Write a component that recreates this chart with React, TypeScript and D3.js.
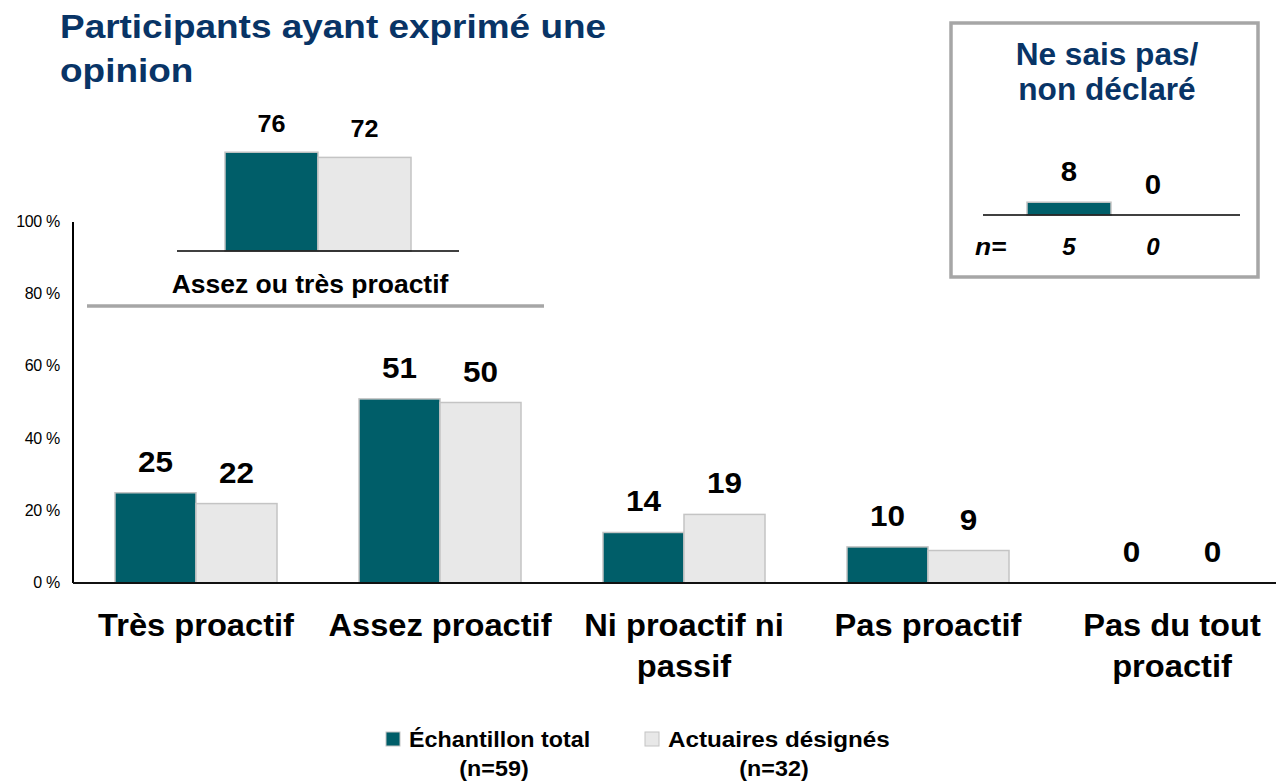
import * as d3 from 'd3';
import type { ReactNode } from 'react';

const categories = ['Très proactif', 'Assez proactif', 'Ni proactif ni passif', 'Pas proactif', 'Pas du tout proactif'];
const categoryLines = [['Très proactif'], ['Assez proactif'], ['Ni proactif ni', 'passif'], ['Pas proactif'], ['Pas du tout', 'proactif']];
const series = ['total', 'actuaires'];
const totalValues = [25, 51, 14, 10, 0];
const actuairesValues = [22, 50, 19, 9, 0];
const summaryValues = [76, 72];
const unknownValues = [8, 0];
const unknownN = ['5', '0'];
const yTicks = [0, 20, 40, 60, 80, 100];
const legendLabels = ['Échantillon total', 'Actuaires désignés'];
const legendN = ['(n=59)', '(n=32)'];

const W = 1276;
const H = 781;
const FONT = '"Liberation Sans", Arial, Helvetica, sans-serif';
const TEAL = '#005E69';
const LIGHT = '#E8E8E8';
const EDGE = '#C4C4C4';
const NAVY = '#083466';
const colors = [TEAL, LIGHT];

// text slightly widened, like the original rendering
function T({ x, y, sx = 1, children, ...rest }: { x: number; y: number; sx?: number; children: ReactNode; [k: string]: any }) {
  return (
    <text transform={`translate(${x},${y}) scale(${sx},1)`} {...rest}>
      {children}
    </text>
  );
}

export default function App(): JSX.Element {
  const y = d3.scaleLinear().domain([0, 100]).range([583, 222]);
  const x = d3.scaleBand().domain(categories).range([74, 1294]).paddingInner(0.336).paddingOuter(0.168);
  const xs = d3.scaleBand().domain(series).range([0, x.bandwidth()]);

  // small "assez ou très" panel
  const ySum = d3.scaleLinear().domain([0, 100]).range([251, 121]);
  const xSum = d3.scaleBand().domain(series).range([225, 411]);

  // "ne sais pas" box
  const yUnk = d3.scaleLinear().domain([0, 100]).range([215, 55]);
  const xUnk = d3.scaleBand().domain(series).range([1027, 1195]);

  const rows = categories.map((c, i) => [totalValues[i], actuairesValues[i]]);

  return (
    <svg width={W} height={H} style={{ position: 'absolute', left: 0, top: 0 }} fontFamily={FONT}>
      <rect width={W} height={H} fill="#fff" />

      {/* title */}
      <T x={60} y={38} sx={1.12} fontSize={33} fontWeight="bold" fill={NAVY}>
        <tspan x={0}>Participants ayant exprimé une</tspan>
        <tspan x={0} dy={44}>opinion</tspan>
      </T>

      {/* y axis */}
      {yTicks.map((t) => (
        <text key={t} x={60} y={y(t)} dy={5} textAnchor="end" fontSize={16} letterSpacing={-0.3} fill="#000">
          {t} %
        </text>
      ))}
      <line x1={73} x2={73} y1={y(100)} y2={y(0)} stroke="#000" strokeWidth={2} />

      {/* main bars */}
      {rows.map((vals, i) =>
        vals.map((v, j) => {
          const bx = (x(categories[i]) as number) + (xs(series[j]) as number);
          return (
            <g key={`${i}-${j}`}>
              {v > 0 && (
                <rect x={bx} y={y(v)} width={xs.bandwidth()} height={y(0) - y(v)} fill={colors[j]} stroke={EDGE} strokeWidth={1.5} />
              )}
              <T x={bx + xs.bandwidth() / 2} y={y(v) - 21} sx={1.05} textAnchor="middle" fontSize={30} fontWeight="bold">
                {v}
              </T>
            </g>
          );
        })
      )}
      <line x1={73} x2={W} y1={y(0)} y2={y(0)} stroke="#111" strokeWidth={2} />

      {/* category labels */}
      {categoryLines.map((lines, i) => (
        <T key={i} x={(x(categories[i]) as number) + x.bandwidth() / 2} y={636} sx={1.02} textAnchor="middle" fontSize={32} fontWeight="bold">
          {lines.map((l, k) => (
            <tspan key={k} x={0} dy={k === 0 ? 0 : 41}>
              {l}
            </tspan>
          ))}
        </T>
      ))}

      {/* summary panel */}
      {summaryValues.map((v, j) => (
        <g key={j}>
          <rect x={xSum(series[j])} y={ySum(v)} width={xSum.bandwidth()} height={ySum(0) - ySum(v)} fill={colors[j]} stroke={EDGE} strokeWidth={1.5} />
          <T x={(xSum(series[j]) as number) + xSum.bandwidth() / 2} y={ySum(v) - 20} sx={1.05} textAnchor="middle" fontSize={24} fontWeight="bold">
            {v}
          </T>
        </g>
      ))}
      <line x1={177} x2={459} y1={ySum(0)} y2={ySum(0)} stroke="#000" strokeWidth={1.5} />
      <T x={310} y={293} sx={1.06} textAnchor="middle" fontSize={25} fontWeight="bold">
        Assez ou très proactif
      </T>
      <line x1={87} x2={544} y1={306} y2={306} stroke="#A6A6A6" strokeWidth={3.5} />

      {/* ne sais pas box */}
      <rect x={951} y={23} width={307} height={254} fill="#fff" stroke="#A6A6A6" strokeWidth={3.5} />
      <T x={1107} y={65} sx={1.02} textAnchor="middle" fontSize={31} fontWeight="bold" fill={NAVY}>
        <tspan x={0}>Ne sais pas/</tspan>
        <tspan x={0} dy={35}>non déclaré</tspan>
      </T>
      {unknownValues.map((v, j) => {
        const cx = (xUnk(series[j]) as number) + xUnk.bandwidth() / 2;
        return (
          <g key={j}>
            {v > 0 && (
              <rect x={xUnk(series[j])} y={yUnk(v)} width={xUnk.bandwidth()} height={yUnk(0) - yUnk(v)} fill={colors[j]} stroke={EDGE} strokeWidth={1.5} />
            )}
            <T x={cx} y={yUnk(v) - 21} sx={1.05} textAnchor="middle" fontSize={28} fontWeight="bold">
              {v}
            </T>
            <T x={cx} y={255} sx={1.05} textAnchor="middle" fontSize={23} fontWeight="bold" fontStyle="italic">
              {unknownN[j]}
            </T>
          </g>
        );
      })}
      <line x1={983} x2={1240} y1={yUnk(0)} y2={yUnk(0)} stroke="#000" strokeWidth={1.5} />
      <T x={975} y={255} sx={1.1} fontSize={24} fontWeight="bold" fontStyle="italic">
        n=
      </T>

      {/* legend */}
      {legendLabels.map((l, j) => {
        const lx = [386, 645][j];
        const nx = [494, 774][j];
        return (
          <g key={j}>
            <rect x={lx} y={732} width={14} height={14} fill={colors[j]} stroke={EDGE} strokeWidth={1} />
            <T x={lx + 23} y={747} sx={[1.06, 1.1][j]} fontSize={22} fontWeight="bold">
              {l}
            </T>
            <T x={nx} y={776} sx={1.06} textAnchor="middle" fontSize={22} fontWeight="bold">
              {legendN[j]}
            </T>
          </g>
        );
      })}
    </svg>
  );
}
